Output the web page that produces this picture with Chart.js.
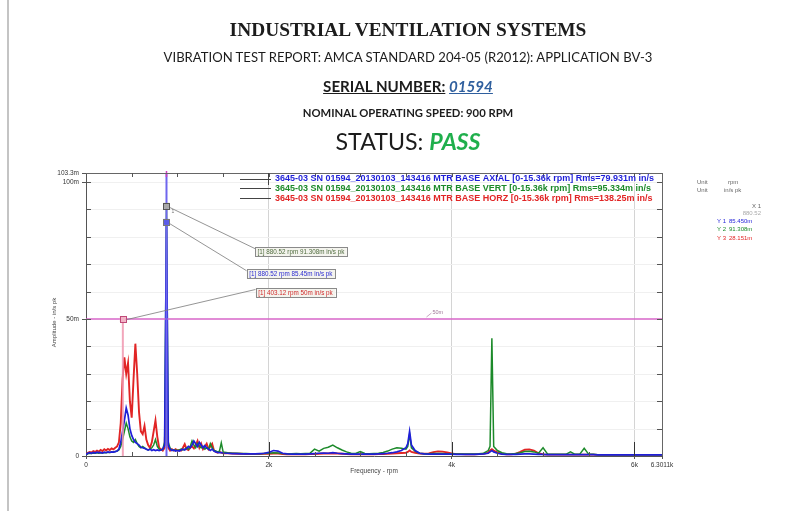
<!DOCTYPE html>
<html>
<head>
<meta charset="utf-8">
<script src="https://cdn.jsdelivr.net/npm/chart.js@4.4.1/dist/chart.umd.min.js"></script>
<style>
html,body{margin:0;padding:0;background:#fff;}
#page{position:relative;width:801px;height:511px;overflow:hidden;background:#fff;}
#c{position:absolute;left:0;top:0;}
#edge{position:absolute;left:7px;top:0;width:2px;height:511px;background:#c4c4c4;}
.h{position:absolute;white-space:nowrap;line-height:1;color:#1c1c1c;}
#t1{font-family:'Liberation Serif','Times New Roman',serif;font-weight:bold;}
#t2,#t3,#t4,#t5{font-family:Lato,'Open Sans',sans-serif;}
#t3{font-weight:bold;}
#t3 .u{text-decoration:underline;}
#t3 .sn{color:#2f5f9e;font-style:italic;text-decoration:underline;}
#t4{font-weight:bold;}
#t5 .pass{color:#1faf4c;font-weight:bold;font-style:italic;}
</style>
</head>
<body>
<div id="page">
  <canvas id="c" width="801" height="511"></canvas>
  <div id="edge"></div>
  <div class="h" id="t1" data-w="357" data-cy="30">INDUSTRIAL VENTILATION SYSTEMS</div>
  <div class="h" id="t2" data-w="489" data-cy="58">VIBRATION TEST REPORT: AMCA STANDARD 204-05 (R2012): APPLICATION BV-3</div>
  <div class="h" id="t3" data-w="170" data-cy="87"><span class="u">SERIAL NUMBER:</span> <span class="sn">01594</span></div>
  <div class="h" id="t4" data-w="211" data-cy="113">NOMINAL OPERATING SPEED: 900 RPM</div>
  <div class="h" id="t5" data-w="145" data-cy="142">STATUS: <span class="pass">PASS</span></div>
</div>
<script>
// ---------------- DATA ----------------
const frequencies = [
  0,20,40,60,80,100,120,140,160,180,
  200,220,240,260,280,300,320,340,360,380,
  400,420,440,460,480,500,520,540,560,580,
  600,620,640,660,680,700,720,740,760,780,
  800,820,840,860,880.52,900,920,940,960,980,
  1000,1020,1040,1060,1080,1100,1120,1140,1160,1180,
  1200,1220,1240,1260,1280,1300,1320,1340,1360,1380,
  1400,1420,1440,1460,1480,1500,
  1550,1600,1650,1700,1750,1800,1850,1900,1950,2000,
  2050,2100,2150,2200,2250,2300,2350,2400,2450,2500,
  2550,2600,2650,2700,2750,2800,2850,2900,2950,3000,
  3050,3100,3150,3200,3250,3300,3350,3400,3450,3500,
  3520,3540,3560,
  3600,3650,3700,3750,3800,3850,3900,3950,4000,4050,4100,4150,4200,4250,4300,4350,4400,
  4420,4440,4460,
  4500,4550,4600,4650,4700,4750,4800,4850,4900,4950,
  5000,5050,5100,5150,5200,5250,5300,5350,5400,5450,
  5500,5550,5600,5650,5700,5750,5800,5850,5900,5950,
  6000,6050,6100,6150,6200,6250,6300
];
// BASE AXIAL (m in/s pk)
const axialAmp = [
  0.5,1.0,1.2,1.0,1.3,1.1,1.4,1.2,1.3,1.1,
  1.4,1.2,1.5,1.3,1.5,1.4,1.6,1.8,2.5,5,
  9,13,17.5,15,10,7.5,6,5,4.5,4,
  3.2,3,2.8,2.5,2.2,2.5,2.0,2.3,2.0,2.2,
  2.0,2.2,2.5,4,85.45,4,2.5,2,2.2,1.8,
  2,1.8,2.2,2.5,2.2,2.8,3.5,3,4,5.5,
  4.5,3.5,5,4,3,3.8,3,2.5,2,2.5,
  1.8,1.5,1.3,1.2,1.2,1.1,
  1.0,0.9,0.9,0.8,0.8,0.8,0.8,0.9,1.0,1.3,
  2.0,1.8,1.0,0.8,0.7,0.7,0.7,0.7,0.8,0.9,
  1.0,1.1,1.0,1.2,1.0,0.9,0.8,0.7,0.7,0.7,
  0.7,0.7,0.7,0.8,0.9,1.0,1.2,1.5,2.0,3.0,
  4.5,9.0,4.0,
  2.0,1.0,0.8,0.7,0.7,0.7,0.7,0.7,0.7,0.6,0.6,0.6,0.6,0.6,0.7,0.8,1.0,
  1.5,2.0,1.5,
  1.0,0.7,0.6,0.6,0.6,0.7,0.8,0.8,0.7,0.6,
  0.6,0.5,0.5,0.5,0.5,0.5,0.5,0.5,0.5,0.5,
  0.5,0.5,0.4,0.4,0.4,0.4,0.4,0.4,0.4,0.4,
  0.4,0.4,0.4,0.4,0.4,0.4,0.4
];
// BASE VERT
const vertAmp = [
  0.4,0.8,1.0,0.9,1.1,1.0,1.2,1.0,1.2,1.1,
  1.3,1.2,1.4,1.3,1.4,1.5,1.6,1.8,2.2,3.5,
  6,9,12,10,7,5.5,5,6,4.5,3.5,
  3,3.5,3,2.5,2.2,2.5,3,4,6,3.5,
  2.5,2.2,2.5,5,91.308,5,2.8,2.2,2,2.2,
  2,2.2,2.5,2.2,2.5,3,2.5,3.5,5.5,4,
  3,4.5,3.5,3,3.5,2.5,3,2.5,4.5,3,
  2,1.8,1.5,1.8,4.8,1.5,
  1.2,1.0,1.0,0.9,0.9,0.8,0.8,0.8,0.9,1.0,
  1.2,1.1,0.9,0.8,0.8,0.9,0.8,0.9,1.0,2.5,
  1.8,2.8,3.2,4.0,3.0,2.2,1.5,1.0,0.9,1.6,
  0.9,0.8,0.9,1.0,1.3,1.8,2.5,3.0,2.8,2.5,
  3.5,8.0,3.0,
  1.8,1.0,0.8,0.8,0.9,0.9,0.9,0.8,0.8,0.7,0.7,0.7,0.7,0.7,0.8,1.0,2.0,
  3.5,43,3.5,
  2.0,1.2,0.8,0.7,0.9,1.2,1.6,1.7,1.5,1.0,
  3.0,0.7,0.6,0.6,0.6,0.6,1.5,0.6,0.6,2.8,
  0.6,0.6,0.5,0.5,0.5,0.5,0.5,0.5,0.5,0.5,
  0.5,0.5,0.5,0.5,0.5,0.5,0.5
];
// BASE HORZ
const horzAmp = [
  0.5,1.2,1.5,1.3,1.8,1.5,2.0,1.6,2.2,1.8,
  2.5,2.0,2.6,2.2,2.8,2.4,3.0,3.5,5.0,12,
  28,36,30,34,20,14,28,41,30,16,
  9,8,11,6,4,3,5,9,13,7,
  3,2.5,2,3,28.151,3,2,2.5,2,2.5,
  2,2.2,2,3,4.3,2.5,2.2,3,3.5,2.8,
  4,5.5,3,4.5,2.5,3.5,4.5,2.5,3.5,4.5,
  2,1.5,1.2,1.5,1.2,1.0,
  1.0,0.9,0.8,0.8,0.7,0.7,0.7,0.7,0.8,0.8,
  0.9,0.9,0.7,0.6,0.6,0.6,0.6,0.6,0.7,0.7,
  0.8,0.9,0.9,1.0,0.9,0.8,0.7,0.6,0.6,0.6,
  0.6,0.6,0.6,0.7,0.7,0.8,0.9,1.0,1.1,1.2,
  1.5,2.0,1.5,
  1.2,0.9,0.8,0.9,1.4,1.7,1.6,1.3,0.9,0.7,0.7,0.6,0.6,0.6,0.7,0.8,1.2,
  2.0,2.5,2.0,
  1.3,0.8,0.6,0.6,0.8,1.5,2.3,2.4,2.0,1.0,
  0.6,0.5,0.5,0.5,0.5,0.5,0.5,0.5,0.5,0.5,
  0.5,0.5,0.4,0.4,0.4,0.4,0.4,0.4,0.4,0.4,
  0.4,0.4,0.4,0.4,0.4,0.4,0.4
];
const seriesNames = [
  '3645-03 SN 01594_20130103_143416 MTR BASE AXIAL [0-15.36k rpm] Rms=79.931m in/s',
  '3645-03 SN 01594_20130103_143416 MTR BASE VERT [0-15.36k rpm] Rms=95.334m in/s',
  '3645-03 SN 01594_20130103_143416 MTR BASE HORZ [0-15.36k rpm] Rms=138.25m in/s'
];
const xTickValues = [0, 2000, 4000, 6000, 6301.1];
const xTickLabels = ['0', '2k', '4k', '6k', '6.3011k'];
const yTickValues = [0, 50, 100, 103.3];
const yTickLabels = ['0', '50m', '100m', '103.3m'];
const alarmLevel = 50;
const alarmLabel = '50m';
const cursorRpm = 880.52;
const cursorLabel = '880.52';
const cursorValues = [85.45, 91.308, 28.151];      // axial, vert, horz at cursor
const cursorValueLabels = ['85.450m', '91.308m', '28.151m'];
const alarmCrossRpm = 403.12;
const noteTexts = [
  '[1] 880.52 rpm 91.308m in/s pk',
  '[1] 880.52 rpm 85.45m in/s pk',
  '[1] 403.12 rpm 50m in/s pk'
];
const xTitle = 'Frequency - rpm';
const yTitle = 'Amplitude - in/s pk';

// ---------------- STYLE ----------------
const COLORS = { axial: '#1f1fd8', vert: '#1c8a2a', horz: '#e12525' };
const FONT = "'Liberation Sans', Arial, sans-serif";

// ---------------- HEADER FIT ----------------
document.querySelectorAll('.h').forEach(el => {
  el.style.fontSize = '20px';
  const w0 = el.getBoundingClientRect().width;
  const fs = 20 * (+el.dataset.w) / w0;
  el.style.fontSize = fs + 'px';
  const r = el.getBoundingClientRect();
  el.style.left = (408 - r.width / 2) + 'px';
  el.style.top = (+el.dataset.cy - r.height / 2) + 'px';
});

// ---------------- DECORATION PLUGIN ----------------
function seg(ctx, x1, y1, x2, y2) { ctx.beginPath(); ctx.moveTo(x1, y1); ctx.lineTo(x2, y2); ctx.stroke(); }

const decor = {
  id: 'decor',
  beforeDatasetsDraw(chart) {
    const { ctx, chartArea: a, scales: { y } } = chart;
    ctx.save();
    ctx.strokeStyle = '#f0f0f0'; ctx.lineWidth = 1;
    for (let v = 10; v < 103; v += 10) {
      if (v === 50) continue;
      const py = Math.round(y.getPixelForValue(v)) + 0.5;
      seg(ctx, a.left, py, a.right, py);
    }
    ctx.restore();
  },
  afterDatasetsDraw(chart) {
    const { ctx, chartArea: a, scales: { x, y } } = chart;
    ctx.save();
    const ay = y.getPixelForValue(alarmLevel);
    ctx.strokeStyle = '#d766c9'; ctx.lineWidth = 1.6;
    seg(ctx, a.left, ay, a.right, ay);
    const lx = x.getPixelForValue(3790);
    ctx.strokeStyle = '#b080a8'; ctx.lineWidth = 0.7;
    seg(ctx, lx - 6, ay - 2, lx - 1, ay - 6);
    ctx.fillStyle = '#a07898'; ctx.font = '5.5px ' + FONT; ctx.textBaseline = 'middle'; ctx.textAlign = 'left';
    ctx.fillText(alarmLabel, lx, ay - 7);
    const px = x.getPixelForValue(alarmCrossRpm);
    ctx.strokeStyle = 'rgba(240,150,175,0.85)'; ctx.lineWidth = 2;
    seg(ctx, px, y.getPixelForValue(0), px, ay);
    const cx = x.getPixelForValue(cursorRpm);
    ctx.strokeStyle = '#6f66ee'; ctx.lineWidth = 2;
    seg(ctx, cx, a.top, cx, a.bottom);
    ctx.strokeStyle = '#d040c0'; ctx.lineWidth = 1.5;
    seg(ctx, cx, a.top - 2, cx, a.top + 4);

    const marks = [
      { fx: cursorRpm, fy: cursorValues[1], fill: '#a9a9a9', stroke: '#555', text: noteTexts[0], tcol: '#4f6b3e', bx: 1849, by: 74.6 },
      { fx: cursorRpm, fy: cursorValues[0], fill: '#5b5be8', stroke: '#777', text: noteTexts[1], tcol: '#2a2ad0', bx: 1758, by: 66.5 },
      { fx: alarmCrossRpm, fy: alarmLevel, fill: '#f2b3c6', stroke: '#c04a78', text: noteTexts[2], tcol: '#d02a2a', bx: 1856, by: 59.7 }
    ];
    ctx.font = '6.3px ' + FONT;
    marks.forEach(m => {
      const mx = x.getPixelForValue(m.fx), my = y.getPixelForValue(m.fy);
      const bl = x.getPixelForValue(m.bx), bc = y.getPixelForValue(m.by);
      const tw = ctx.measureText(m.text).width;
      const bw = tw + 5, bh = 9;
      ctx.strokeStyle = '#7a7a7a'; ctx.lineWidth = 0.8;
      seg(ctx, mx + 2, my + 1, bl, bc - 3);
      ctx.fillStyle = '#f4f4ee'; ctx.strokeStyle = '#8a8a8a'; ctx.lineWidth = 1;
      ctx.fillRect(bl, bc - bh / 2, bw, bh);
      ctx.strokeRect(Math.round(bl) + 0.5, Math.round(bc - bh / 2) + 0.5, Math.round(bw), bh);
      ctx.fillStyle = m.tcol; ctx.textAlign = 'left'; ctx.textBaseline = 'middle';
      ctx.fillText(m.text, bl + 2.5, bc + 0.5);
      ctx.fillStyle = m.fill; ctx.strokeStyle = m.stroke; ctx.lineWidth = 1;
      ctx.fillRect(mx - 3, my - 3, 6, 6);
      ctx.strokeRect(Math.round(mx - 3) + 0.5, Math.round(my - 3) + 0.5, 6, 6);
    });
    // tiny cursor index near the upper marker
    ctx.fillStyle = '#777'; ctx.font = '5px ' + FONT;
    ctx.fillText('1', x.getPixelForValue(cursorRpm) + 5, y.getPixelForValue(cursorValues[1]) + 6);
    ctx.restore();
  },
  afterDraw(chart) {
    const { ctx, chartArea: a, scales: { x, y } } = chart;
    ctx.save();
    ctx.strokeStyle = '#666'; ctx.lineWidth = 1;
    seg(ctx, a.left, Math.round(a.top) + 0.5, a.right, Math.round(a.top) + 0.5);
    seg(ctx, Math.round(a.right) + 0.5, a.top, Math.round(a.right) + 0.5, a.bottom);
    ctx.strokeStyle = '#555';
    for (let v = 500; v < 6301; v += 500) {
      const px = Math.round(x.getPixelForValue(v)) + 0.5;
      seg(ctx, px, a.top, px, a.top + 4);
      const major = v % 2000 === 0;
      ctx.strokeStyle = major ? '#333' : '#555';
      seg(ctx, px, a.bottom, px, a.bottom - (major ? 14 : 4));
      ctx.strokeStyle = '#555';
    }
    for (let v = 10; v < 103; v += 10) {
      const py = Math.round(y.getPixelForValue(v)) + 0.5;
      seg(ctx, a.left, py, a.left + 5, py);
      seg(ctx, a.right, py, a.right - 5, py);
    }
    // legend
    ctx.strokeStyle = '#444'; ctx.lineWidth = 1;
    const rows = [a.top + 5.5, a.top + 15, a.top + 25];
    rows.forEach(ry => {
      seg(ctx, a.left + 154, Math.round(ry) + 0.5, a.left + 185, Math.round(ry) + 0.5);
    });
    seg(ctx, a.left + 182.5, a.top, a.left + 182.5, a.top + 12);
    ctx.font = 'bold 9px ' + FONT; ctx.textAlign = 'left'; ctx.textBaseline = 'middle';
    const cols = [COLORS.axial, COLORS.vert, COLORS.horz];
    rows.forEach((ry, i) => {
      ctx.fillStyle = cols[i];
      ctx.fillText(seriesNames[i], a.left + 189, ry + 0.5, 383);
    });
    // right info panel
    const R = a.right;
    ctx.font = '6px ' + FONT; ctx.fillStyle = '#666';
    ctx.fillText('Unit', R + 35, a.top + 9);
    ctx.fillText('rpm', R + 66, a.top + 9);
    ctx.fillText('Unit', R + 35, a.top + 17);
    ctx.fillText('in/s pk', R + 62, a.top + 17);
    ctx.textAlign = 'right';
    ctx.fillText('X 1', R + 99, a.top + 33.5);
    ctx.fillStyle = '#aaa';
    ctx.fillText(cursorLabel, R + 99, a.top + 40.5);
    cols.forEach((c, i) => {
      const ry = a.top + 48.5 + i * 8.3;
      ctx.fillStyle = c; ctx.textAlign = 'left';
      ctx.fillText('Y ' + (i + 1), R + 55, ry);
      ctx.fillText(cursorValueLabels[i], R + 67, ry);
    });
    // axis titles
    ctx.fillStyle = '#444'; ctx.font = '6.5px ' + FONT; ctx.textAlign = 'center';
    ctx.fillText(xTitle, (a.left + a.right) / 2, a.bottom + 15);
    ctx.save();
    ctx.translate(54, (a.top + a.bottom) / 2 + 8);
    ctx.rotate(-Math.PI / 2);
    ctx.font = '6px ' + FONT;
    ctx.fillText(yTitle, 0, 0);
    ctx.restore();
    ctx.restore();
  }
};

// ---------------- CHART ----------------
const mk = arr => frequencies.map((f, i) => ({ x: f, y: arr[i] }));
new Chart(document.getElementById('c'), {
  type: 'line',
  data: {
    datasets: [
      { label: seriesNames[0], data: mk(axialAmp), borderColor: COLORS.axial, backgroundColor: COLORS.axial, borderWidth: 1.7 },
      { label: seriesNames[1], data: mk(vertAmp), borderColor: COLORS.vert, backgroundColor: COLORS.vert, borderWidth: 1.5 },
      { label: seriesNames[2], data: mk(horzAmp), borderColor: COLORS.horz, backgroundColor: COLORS.horz, borderWidth: 1.9 }
    ]
  },
  options: {
    responsive: false, animation: false, devicePixelRatio: 1,
    layout: { padding: { left: 0, right: 139, top: 173, bottom: 30 } },
    plugins: { legend: { display: false }, tooltip: { enabled: false } },
    elements: { point: { radius: 0 }, line: { tension: 0 } },
    scales: {
      x: {
        type: 'linear', min: 0, max: 6301.1,
        afterBuildTicks: s => { s.ticks = xTickValues.map(v => ({ value: v })); },
        afterFit: s => { s.height = 25; },
        ticks: { autoSkip: false, maxRotation: 0, padding: 2, color: '#333', font: { size: 6.5, family: FONT },
                 callback: (v, i) => xTickLabels[i] },
        grid: { color: c => (c.tick && [2000, 4000, 6000].includes(c.tick.value)) ? '#d4d4d4' : 'rgba(0,0,0,0)',
                tickLength: 3, tickColor: '#555' },
        border: { color: '#555' }
      },
      y: {
        type: 'linear', min: 0, max: 103.3,
        afterBuildTicks: s => { s.ticks = yTickValues.map(v => ({ value: v })); },
        afterFit: s => { s.width = 86; },
        ticks: { autoSkip: false, padding: 3, color: '#333', font: { size: 6.5, family: FONT },
                 callback: (v, i) => yTickLabels[i] },
        grid: { color: 'rgba(0,0,0,0)', tickLength: 4, tickColor: '#555' },
        border: { color: '#555' }
      }
    }
  },
  plugins: [decor]
});
</script>
</body>
</html>
